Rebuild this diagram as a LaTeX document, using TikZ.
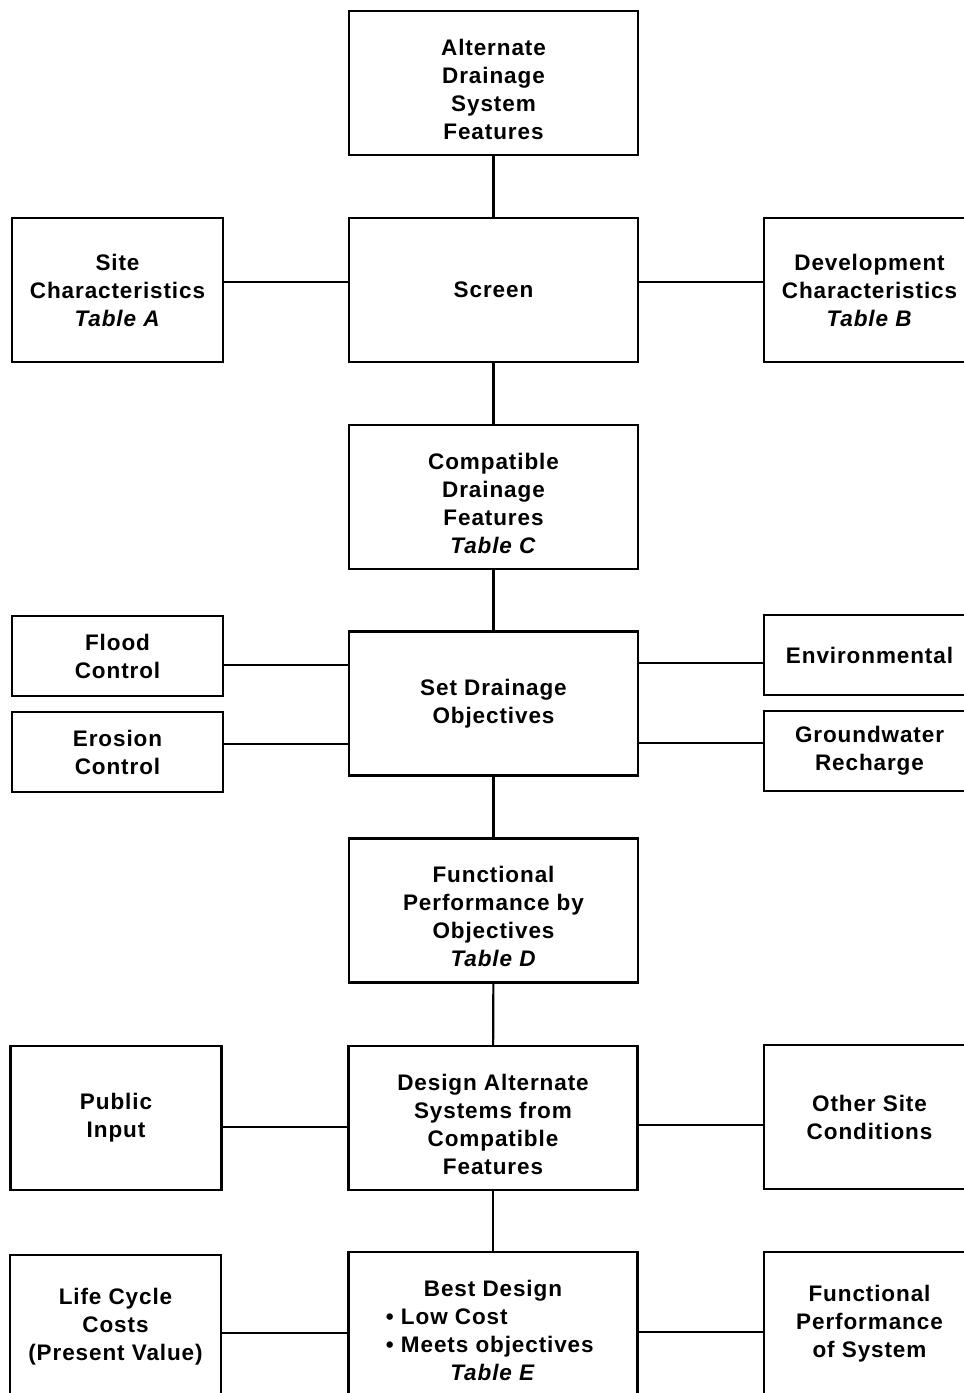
\documentclass[tikz,border=0pt]{standalone}
\usepackage{fontspec}
\setmainfont{Liberation Sans}[LetterSpace=4.0]
\usetikzlibrary{positioning}

\begin{document}
\begin{tikzpicture}[x=0.025cm,y=-0.025cm,
    box/.style={draw,line width=1.5pt,align=center,inner sep=0pt,
        font=\bfseries\fontsize{16}{19.9}\selectfont},
    mainbox/.style={box,minimum width=7.225cm,minimum height=3.6cm},
    sidebox/.style={box,minimum width=5.275cm,minimum height=3.6cm},
    smallbox/.style={box,minimum width=5.275cm,minimum height=2cm},
    lowered/.style={text height=80pt},
    link/.style={line width=1.5pt}]
    \useasboundingbox (0,0) rectangle (964,1393);

    \node[mainbox,lowered] (features) at (493.5,83) {Alternate\\Drainage\\System\\Features};
    \node[mainbox] (screen) at (493.5,290) {Screen};
    \node[sidebox] (site) at (117.5,290) {Site\\Characteristics\\\textit{Table A}};
    \node[sidebox] (devel) at (869.5,290) {Development\\Characteristics\\\textit{Table B}};
    \node[mainbox,lowered] (compat) at (493.5,497) {Compatible\\Drainage\\Features\\\textit{Table C}};

    \node[mainbox] (objectives) at (493.5,703.5) {Set Drainage\\Objectives};
    \node[smallbox] (flood) at (117.5,656) {Flood\\Control};
    \node[smallbox] (erosion) at (117.5,752) {Erosion\\Control};
    \node[smallbox] (environ) at (869.5,655) {Environmental};
    \node[smallbox] (recharge) at (869.5,751) {Groundwater\\Recharge};

    \node[mainbox,lowered] (perform) at (493.5,910.5) {Functional\\Performance by\\Objectives\\\textit{Table D}};

    \node[mainbox,lowered] (design) at (493,1118) {Design Alternate\\Systems from\\Compatible\\Features};
    \node[sidebox] (public) at (116,1118) {Public\\Input};
    \node[sidebox] (other) at (869.5,1117) {Other Site\\Conditions};

    \node[mainbox,lowered] (best) at (493,1324) {Best Design\\
        \makebox[5.35cm][l]{\textbullet\ Low Cost}\\
        \makebox[5.35cm][l]{\textbullet\ Meets objectives}\\
        \textit{Table E}};
    \node[sidebox] (costs) at (115.5,1327) {Life Cycle\\Costs\\(Present Value)};
    \node[sidebox] (system) at (869.5,1324) {Functional\\Performance\\of System};

    \draw[link] (features) -- (screen);
    \draw[link] (screen) -- (compat);
    \draw[link] (compat) -- (objectives);
    \draw[link] (objectives) -- (perform);
    \draw[link] (perform) -- (design);
    \draw[link] (design) -- (best);

    \draw[link] ([yshift=0.2cm]site.east) -- ([yshift=0.2cm]site.east -| screen.west);
    \draw[link] ([yshift=0.2cm]devel.west) -- ([yshift=0.2cm]devel.west -| screen.east);
    \draw[link] ([yshift=-0.225cm]flood.east) -- ([yshift=-0.225cm]flood.east -| objectives.west);
    \draw[link] ([yshift=0.2cm]erosion.east) -- ([yshift=0.2cm]erosion.east -| objectives.west);
    \draw[link] ([yshift=-0.2cm]environ.west) -- ([yshift=-0.2cm]environ.west -| objectives.east);
    \draw[link] ([yshift=0.2cm]recharge.west) -- ([yshift=0.2cm]recharge.west -| objectives.east);
    \draw[link] ([yshift=-0.225cm]public.east) -- ([yshift=-0.225cm]public.east -| design.west);
    \draw[link] ([yshift=-0.2cm]other.west) -- ([yshift=-0.2cm]other.west -| design.east);
    \draw[link] ([yshift=-0.15cm]costs.east) -- ([yshift=-0.15cm]costs.east -| best.west);
    \draw[link] ([yshift=-0.2cm]system.west) -- ([yshift=-0.2cm]system.west -| best.east);
\end{tikzpicture}
\end{document}
